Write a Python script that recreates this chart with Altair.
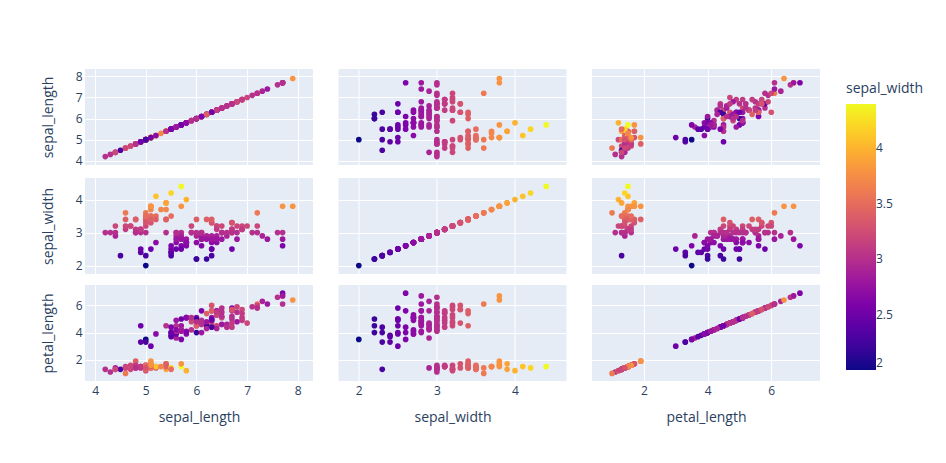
import altair as alt
import pandas as pd

sepal_length = [
    5.1, 4.9, 4.7, 4.6, 5.0, 5.4, 4.6, 5.0, 4.4, 4.9, 5.4, 4.8, 4.8, 4.3, 4.2, 5.8, 5.7, 5.4, 5.1, 5.7, 5.1,
    5.4, 5.1, 4.6, 5.1, 4.8, 5.0, 5.0, 5.2, 5.2, 4.7, 4.8, 5.4, 5.2, 5.5, 4.9, 5.0, 5.5, 4.9, 4.4, 5.1,
    5.0, 4.5, 4.4, 5.0, 5.1, 4.8, 5.1, 4.6, 5.3, 5.0,
    7.0, 6.4, 6.9, 5.5, 6.5, 5.7, 6.3, 4.9, 6.6, 5.2, 5.0, 5.9, 6.0, 6.1, 5.6, 6.7, 5.6, 5.8, 6.2, 5.6,
    5.9, 6.1, 6.3, 6.1, 6.4, 6.6, 6.8, 6.7, 6.0, 5.7, 5.5, 5.5, 5.8, 6.0, 5.4, 6.0, 6.7, 6.3, 5.6, 5.5,
    5.5, 6.1, 5.8, 5.0, 5.6, 5.7, 5.7, 6.2, 5.1, 5.7,
    6.3, 5.8, 7.1, 6.3, 6.5, 7.6, 4.9, 7.3, 6.7, 7.2, 6.5, 6.4, 6.8, 5.7, 5.8, 6.4, 6.5, 7.7, 7.7, 6.0,
    6.9, 5.6, 7.7, 6.3, 6.7, 7.2, 6.2, 6.1, 6.4, 7.2, 7.4, 7.9, 6.4, 6.3, 6.1, 7.7, 6.3, 6.4, 6.0, 6.9,
    6.7, 6.9, 5.8, 6.8, 6.7, 6.7, 6.3, 6.5, 6.2, 5.9,
]
sepal_width = [
    3.5, 3.0, 3.2, 3.1, 3.6, 3.9, 3.4, 3.4, 2.9, 3.1, 3.7, 3.4, 3.0, 3.0, 3.0, 4.0, 4.4, 3.9, 3.5, 3.8, 3.8,
    3.4, 3.7, 3.6, 3.3, 3.4, 3.0, 3.4, 3.5, 3.4, 3.2, 3.1, 3.4, 4.1, 4.2, 3.1, 3.2, 3.5, 3.1, 3.0, 3.4,
    3.5, 2.3, 3.2, 3.5, 3.8, 3.0, 3.8, 3.2, 3.7, 3.3,
    3.2, 3.2, 3.1, 2.3, 2.8, 2.8, 3.3, 2.4, 2.9, 2.7, 2.0, 3.0, 2.2, 2.9, 2.9, 3.1, 3.0, 2.7, 2.2, 2.5,
    3.2, 2.8, 2.5, 2.8, 2.9, 3.0, 2.8, 3.0, 2.9, 2.6, 2.4, 2.4, 2.7, 2.7, 3.0, 3.4, 3.1, 2.3, 3.0, 2.5,
    2.6, 3.0, 2.6, 2.3, 2.7, 3.0, 2.9, 2.9, 2.5, 2.8,
    3.3, 2.7, 3.0, 2.9, 3.0, 3.0, 2.5, 2.9, 2.5, 3.6, 3.2, 2.7, 3.0, 2.5, 2.8, 3.2, 3.0, 3.8, 2.6, 2.2,
    3.2, 2.8, 2.8, 2.7, 3.3, 3.2, 2.8, 3.0, 2.8, 3.0, 2.8, 3.8, 2.8, 2.8, 2.6, 3.0, 3.4, 3.1, 3.0, 3.1,
    3.1, 3.1, 2.7, 3.2, 3.3, 3.0, 2.5, 3.0, 3.4, 3.0,
]
petal_length = [
    1.4, 1.4, 1.3, 1.5, 1.4, 1.7, 1.4, 1.5, 1.4, 1.5, 1.5, 1.6, 1.4, 1.1, 1.3, 1.2, 1.5, 1.3, 1.4, 1.7, 1.5,
    1.7, 1.5, 1.0, 1.7, 1.9, 1.6, 1.6, 1.5, 1.4, 1.6, 1.6, 1.5, 1.5, 1.4, 1.5, 1.2, 1.3, 1.5, 1.3, 1.5,
    1.3, 1.3, 1.3, 1.6, 1.9, 1.4, 1.6, 1.4, 1.5, 1.4,
    4.7, 4.5, 4.9, 4.0, 4.6, 4.5, 4.7, 3.3, 4.6, 3.9, 3.5, 4.2, 4.0, 4.7, 3.6, 4.4, 4.5, 4.1, 4.5, 3.9,
    4.8, 4.0, 4.9, 4.7, 4.3, 4.4, 4.8, 5.0, 4.5, 3.5, 3.8, 3.7, 3.9, 5.1, 4.5, 4.5, 4.7, 4.4, 4.1, 4.0,
    4.4, 4.6, 4.0, 3.3, 4.2, 4.2, 4.2, 4.3, 3.0, 4.1,
    6.0, 5.1, 5.9, 5.6, 5.8, 6.6, 4.5, 6.3, 5.8, 6.1, 5.1, 5.3, 5.5, 5.0, 5.1, 5.3, 5.5, 6.7, 6.9, 5.0,
    5.7, 4.9, 6.7, 4.9, 5.7, 6.0, 4.8, 4.9, 5.6, 5.8, 6.1, 6.4, 5.6, 5.1, 5.6, 6.1, 5.6, 5.5, 4.8, 5.4,
    5.6, 5.1, 5.1, 5.9, 5.7, 5.2, 5.0, 5.2, 5.4, 5.1,
]

dims = ["sepal_length", "sepal_width", "petal_length"]
tick_values = {
    "sepal_length": [4, 5, 6, 7, 8],
    "sepal_width": [2, 3, 4],
    "petal_length": [2, 4, 6],
}
x_domains = {
    "sepal_length": [3.8, 8.3],
    "sepal_width": [1.74, 4.66],
    "petal_length": [0.37, 7.53],
}
y_domains = {
    "sepal_length": [3.8, 8.35],
    "sepal_width": [1.745, 4.655],
    "petal_length": [0.44, 7.5],
}
legend_values = [2, 2.5, 3, 3.5, 4]

df = pd.DataFrame({
    "sepal_length": sepal_length,
    "sepal_width": sepal_width,
    "petal_length": petal_length,
})

FONT = "Open Sans"
TXT = "#2a3f5f"


def panel(xcol, ycol, show_x, show_y):
    if show_x:
        xaxis = alt.Axis(values=tick_values[xcol], labelPadding=4, titlePadding=14)
        x = alt.X(f"{xcol}:Q", title=xcol, axis=xaxis,
                  scale=alt.Scale(domain=x_domains[xcol], nice=False, zero=False))
    else:
        xaxis = alt.Axis(values=tick_values[xcol], labels=False)
        x = alt.X(f"{xcol}:Q", title=None, axis=xaxis,
                  scale=alt.Scale(domain=x_domains[xcol], nice=False, zero=False))
    if show_y:
        yaxis = alt.Axis(values=tick_values[ycol], labelPadding=3, titlePadding=20)
        y = alt.Y(f"{ycol}:Q", title=ycol, axis=yaxis,
                  scale=alt.Scale(domain=y_domains[ycol], nice=False, zero=False))
    else:
        yaxis = alt.Axis(values=tick_values[ycol], labels=False)
        y = alt.Y(f"{ycol}:Q", title=None, axis=yaxis,
                  scale=alt.Scale(domain=y_domains[ycol], nice=False, zero=False))
    color = alt.Color(
        "sepal_width:Q",
        scale=alt.Scale(scheme="plasma", domain=[2, 4.4], nice=False, zero=False),
        legend=alt.Legend(
            title="sepal_width",
            orient="none",
            legendX=761,
            legendY=13,
            direction="vertical",
            gradientLength=266,
            gradientThickness=30,
            values=legend_values,
            format=".1~f",
            labelOffset=0,
            titlePadding=8,
        ),
    )
    return alt.Chart(df).mark_circle(size=32, opacity=1).encode(
        x=x, y=y, color=color
    ).properties(width=228, height=96)


rows = []
for r, ycol in enumerate(dims):
    row = [panel(xcol, ycol, r == len(dims) - 1, c == 0) for c, xcol in enumerate(dims)]
    rows.append(alt.hconcat(*row, spacing=25.5))

chart = alt.vconcat(*rows, spacing=11).properties(
    padding={"left": 33, "top": 61, "right": 5, "bottom": 5},
    background="white",
).configure_view(
    fill="#E5ECF6", strokeWidth=0
).configure_axis(
    grid=True, gridColor="white", gridWidth=1, domain=False, ticks=False,
    labelFont=FONT, labelColor=TXT, labelFontSize=12,
    titleFont=FONT, titleColor=TXT, titleFontSize=14, titleFontWeight="normal",
).configure_legend(
    titleFont=FONT, titleColor=TXT, titleFontSize=14, titleFontWeight="normal",
    labelFont=FONT, labelColor=TXT, labelFontSize=12,
)

chart.save("out.html", embed_options={"renderer": "svg", "actions": False})
